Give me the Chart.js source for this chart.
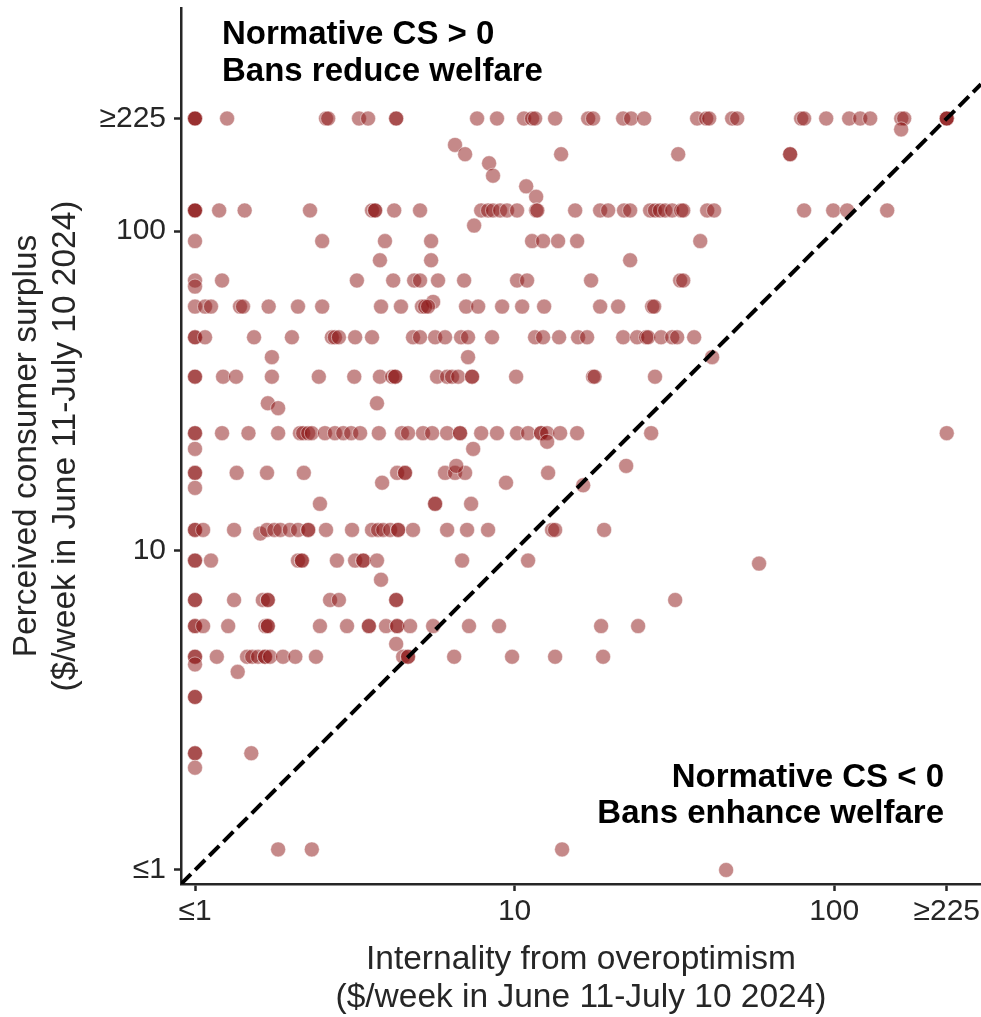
<!DOCTYPE html>
<html>
<head>
<meta charset="utf-8">
<script src="https://cdn.jsdelivr.net/npm/chart.js@4.4.0/dist/chart.umd.min.js"></script>
<style>
  html, body { margin: 0; padding: 0; background: #fff; }
</style>
</head>
<body>
<canvas id="chart" width="981" height="1017"></canvas>
<script>
// internality from overoptimism ($/week), one entry per respondent
const internality = [
  // perceived CS >= 225
  1, 1, 1, 1.26, 2.57, 2.61, 3.26, 3.48, 4.26, 4.26, 7.63, 8.81, 10.7, 11.34, 11.59, 13.39, 16.99, 17.6,
  21.86, 23.15, 25.43, 37.25, 39.76, 40.63, 47.94, 49.7, 78.8, 80.5, 94.4, 111.4, 120.6, 129.6, 162.1, 165.6,
  225, 225, 225, 162,
  6.51, 7.0, 8.32, 8.56, 10.87, 11.68, 13.98, 32.5, 72.8, 72.8,
  // ~116
  1, 1, 1, 1.19, 1.43, 2.29, 3.58, 3.66, 3.66, 4.2, 5.06, 7.86, 8.26, 8.56, 9.01, 9.47, 10.18, 11.68, 11.78,
  15.47, 18.52, 19.62, 22.0, 22.99, 26.55, 27.5, 28.5, 29.58, 31.12, 33.2, 33.7, 40.05, 42.1, 80.5, 99.3,
  109.8, 146.5, 7.47,
  // ~93 / ~81
  1, 2.5, 3.93, 5.48, 11.34, 12.28, 13.68, 15.69, 38.1, 3.79, 5.48, 22.99,
  // ~70
  1, 1, 1.215, 3.21, 4.17, 4.85, 5.06, 5.76, 6.95, 10.18, 10.94, 17.35, 32.96, 33.7, 5.56,
  // ~58
  1, 1.075, 1.122, 1.383, 1.413, 1.7, 2.1, 2.5, 3.82, 4.41, 5.13, 5.25, 5.36, 7.05, 7.69, 9.14, 10.56, 12.37,
  18.52, 21.08, 26.94, 27.33,
  // ~46.5
  1, 1, 1.075, 1.53, 2.01, 2.68, 2.74, 2.82, 3.17, 3.58, 4.81, 5.06, 5.64, 6.06, 6.8, 7.15, 8.5, 11.59, 12.28,
  13.78, 15.8, 16.86, 21.86, 24.17, 25.8, 26.17, 28.73, 31.12, 32.26, 36.46,
  1.74, 7.15, 41.5,
  // ~35
  1, 1, 1.224, 1.344, 1.74, 2.44, 3.15, 3.79, 4.14, 4.23, 4.23, 5.72, 6.15, 6.37, 6.66, 7.36, 7.36, 10.11,
  17.6, 17.8, 27.5, 1.69, 3.71, 1.82,
  // ~23.3
  1, 1, 1.215, 1.47, 1.82, 2.13, 2.18, 2.26, 2.32, 2.55, 2.74, 2.91, 3.08, 3.285, 3.76, 4.44, 4.64, 5.17,
  5.52, 6.15, 6.75, 6.75, 7.86, 8.81, 10.18, 11.02, 12.1, 12.1, 12.64, 13.88, 15.69, 26.75, 225,
  12.64, 1, 7.42,
  // ~17.5
  1, 1, 1.35, 1.68, 2.19, 4.29, 4.54, 4.54, 6.06, 6.51, 7.0, 12.73, 6.57, 22.34,
  1, 3.85, 9.4, 16.39, 2.46, 5.64, 5.64, 7.31,
  // ~11.6
  1, 1, 1.06, 1.325, 1.6, 1.68, 1.77, 1.85, 1.98, 2.1, 2.26, 2.26, 2.57, 3.1, 3.58, 3.74, 3.88, 4.08, 4.32,
  4.32, 4.81, 6.15, 7.1, 8.26, 13.1, 13.39, 19.06,
  // ~9.3
  1, 1, 1.122, 2.1, 2.16, 2.16, 2.78, 3.17, 3.36, 3.36, 3.71, 6.85, 11.02, 58.2, 3.82,
  // ~7
  1, 1, 1.325, 1.63, 1.69, 1.69, 2.646, 2.82, 4.26, 4.26, 31.8,
  // ~5.8
  1, 1, 1.06, 1.27, 1.66, 1.69, 1.69, 2.46, 2.99, 3.5, 3.5, 3.96, 4.29, 4.29, 4.71, 5.56, 7.2, 8.94, 18.65,
  24.35, 4.26,
  // ~4.65
  1, 1, 1.17, 1.455, 1.51, 1.575, 1.656, 1.656, 1.717, 1.885, 2.06, 2.39, 4.48, 4.64, 4.64, 6.47, 9.82, 13.39,
  18.92, 1, 1.36,
  // low
  1, 1, 1, 1, 1, 1.5, 1.82, 2.32, 14.08, 45.9
];

// perceived consumer surplus ($/week), same order
const perceivedCS = [
  225, 225, 225, 225, 225, 225, 225, 225, 225, 225, 225, 225, 225, 225, 225, 225, 225, 225,
  225, 225, 225, 225, 225, 225, 225, 225, 225, 225, 225, 225, 225, 225, 225, 225,
  225, 225, 225, 208,
  186, 174, 163, 149, 138, 128, 174, 174, 174, 174,
  116, 116, 116, 116, 116, 116, 116, 116, 116, 116, 116, 116, 116, 116, 116, 116, 116, 116, 116,
  116, 116, 116, 116, 116, 116, 116, 116, 116, 116, 116, 116, 116, 116, 116, 116,
  116, 116, 104,
  93, 93, 93, 93, 93, 93, 93, 93, 93, 81, 81, 81,
  70, 67, 70, 70, 70, 70, 70, 70, 70, 70, 70, 70, 70, 70, 60,
  58, 58, 58, 58, 58, 58, 58, 58, 58, 58, 58, 58, 58, 58, 58, 58, 58, 58,
  58, 58, 58, 58,
  46.5, 46.5, 46.5, 46.5, 46.5, 46.5, 46.5, 46.5, 46.5, 46.5, 46.5, 46.5, 46.5, 46.5, 46.5, 46.5, 46.5, 46.5, 46.5,
  46.5, 46.5, 46.5, 46.5, 46.5, 46.5, 46.5, 46.5, 46.5, 46.5, 46.5,
  40.3, 40.3, 40.3,
  35, 35, 35, 35, 35, 35, 35, 35, 35, 35, 35, 35, 35, 35, 35, 35, 35, 35,
  35, 35, 35, 28.9, 28.9, 27.9,
  23.3, 23.3, 23.3, 23.3, 23.3, 23.3, 23.3, 23.3, 23.3, 23.3, 23.3, 23.3, 23.3, 23.3, 23.3, 23.3, 23.3, 23.3,
  23.3, 23.3, 23.3, 23.3, 23.3, 23.3, 23.3, 23.3, 23.3, 23.3, 23.3, 23.3, 23.3, 23.3, 23.3,
  21.9, 20.8, 20.8,
  17.5, 17.5, 17.5, 17.5, 17.5, 17.5, 17.5, 17.5, 17.5, 17.5, 17.5, 17.5, 18.4, 18.4,
  15.7, 16.3, 16.3, 16.0, 14, 14, 14, 14,
  11.6, 11.6, 11.6, 11.6, 11.3, 11.6, 11.6, 11.6, 11.6, 11.6, 11.6, 11.6, 11.6, 11.6, 11.6, 11.6, 11.6, 11.6, 11.6,
  11.6, 11.6, 11.6, 11.6, 11.6, 11.6, 11.6, 11.6,
  9.3, 9.3, 9.3, 9.3, 9.3, 9.3, 9.3, 9.3, 9.3, 9.3, 9.3, 9.3, 9.3, 9.1, 8.1,
  7, 7, 7, 7, 7, 7, 7, 7, 7, 7, 7,
  5.8, 5.8, 5.8, 5.8, 5.8, 5.8, 5.8, 5.8, 5.8, 5.8, 5.8, 5.8, 5.8, 5.8, 5.8, 5.8, 5.8, 5.8, 5.8,
  5.8, 5.1,
  4.65, 4.65, 4.65, 4.65, 4.65, 4.65, 4.65, 4.65, 4.65, 4.65, 4.65, 4.65, 4.65, 4.65, 4.65, 4.65, 4.65, 4.65,
  4.65, 4.4, 4.17,
  3.48, 3.48, 2.32, 2.32, 2.09, 2.32, 1.16, 1.16, 1.16, 1
];

const xTickValues = [1, 10, 100, 225];
const xTickLabels = ['≤1', '10', '100', '≥225'];
const yTickValues = [1, 10, 100, 225];
const yTickLabels = ['≤1', '10', '100', '≥225'];

const axisMin = 0.904;
const xMax = 288;
const yMax = 499;

const FONT = "'Liberation Sans', Arial, Helvetica, sans-serif";
const INK = '#262626';

const points = internality.map((x, i) => ({ x: x, y: perceivedCS[i] }));

const annotations = {
  id: 'annotations',
  afterDatasetsDraw(chart) {
    const { ctx, chartArea } = chart;
    ctx.save();
    ctx.font = 'bold 33px ' + FONT;
    ctx.fillStyle = '#000';
    ctx.textBaseline = 'alphabetic';
    ctx.textAlign = 'left';
    ctx.fillText('Normative CS > 0', chartArea.left + 41, chartArea.top + 36);
    ctx.fillText('Bans reduce welfare', chartArea.left + 41, chartArea.top + 73);
    ctx.textAlign = 'right';
    ctx.fillText('Normative CS < 0', chartArea.right - 37, chartArea.bottom - 97);
    ctx.fillText('Bans enhance welfare', chartArea.right - 37, chartArea.bottom - 61);
    ctx.restore();
  }
};

function logAxis(values, labels, min, max) {
  return {
    type: 'logarithmic',
    min: min,
    max: max,
    afterBuildTicks: s => { s.ticks = values.map(v => ({ value: v })); },
    ticks: {
      callback: (v, i) => labels[i],
      color: INK,
      font: { family: FONT, size: 30 },
      autoSkip: false,
      maxRotation: 0
    },
    grid: {
      display: true,
      drawOnChartArea: false,
      drawTicks: true,
      tickLength: 7,
      tickWidth: 2.5,
      tickColor: INK
    },
    border: { display: true, color: INK, width: 2.5 }
  };
}

const xAxis = logAxis(xTickValues, xTickLabels, axisMin, xMax);
xAxis.afterFit = s => {
  s.height = 133;
  s.paddingLeft = 0;
  s.paddingRight = 0;
};
xAxis.ticks.padding = 3;
xAxis.title = {
  display: true,
  text: ['Internality from overoptimism', '($/week in June 11-July 10 2024)'],
  color: INK,
  font: { family: FONT, size: 33.5, lineHeight: 1.14 },
  padding: { top: 0, bottom: 0 }
};

const yAxis = logAxis(yTickValues, yTickLabels, axisMin, yMax);
yAxis.afterFit = s => {
  s.width = 181;
  s.paddingTop = 0;
  s.paddingBottom = 0;
};
yAxis.ticks.padding = 8;
yAxis.title = {
  display: true,
  text: ['Perceived consumer surplus', '($/week in June 11-July 10 2024)'],
  color: INK,
  font: { family: FONT, size: 33.5, lineHeight: 1.14 },
  padding: { top: 8, bottom: 0 }
};

new Chart(document.getElementById('chart'), {
  type: 'scatter',
  data: {
    datasets: [
      {
        type: 'line',
        data: [{ x: axisMin, y: axisMin }, { x: xMax, y: xMax }],
        borderColor: '#000',
        borderWidth: 4,
        borderDash: [14, 6],
        pointRadius: 0,
        order: 0
      },
      {
        data: points,
        backgroundColor: 'rgba(140, 20, 20, 0.5)',
        borderColor: 'rgba(255, 255, 255, 0.6)',
        borderWidth: 0.8,
        pointRadius: 7.5,
        order: 1
      }
    ]
  },
  options: {
    responsive: false,
    animation: false,
    layout: { autoPadding: false, padding: { top: 8, right: 0, bottom: 0, left: 0 } },
    plugins: {
      legend: { display: false },
      tooltip: { enabled: false }
    },
    scales: { x: xAxis, y: yAxis }
  },
  plugins: [annotations]
});
</script>
</body>
</html>
